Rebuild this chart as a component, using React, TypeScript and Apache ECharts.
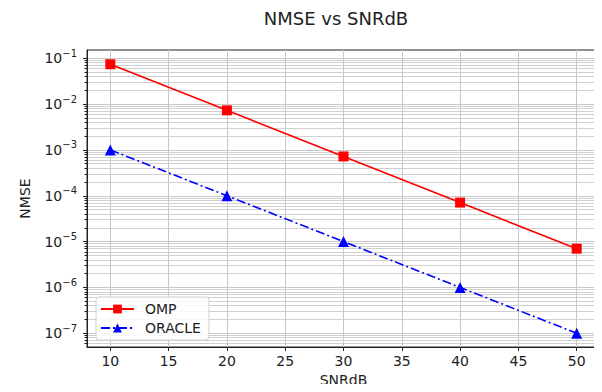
import React, { useEffect, useRef } from "react";
import * as echarts from "echarts";

const snrDb = [10, 20, 30, 40, 50];
const ompNmse = [0.074, 0.0073, 0.00072, 0.000071, 0.000007];
const oracleNmse = [0.001, 0.0001, 0.00001, 0.000001, 0.0000001];
const xTicks = [10, 15, 20, 25, 30, 35, 40, 45, 50];
const yMajorExp = [-7, -6, -5, -4, -3, -2, -1];
const yMinorMult = [2, 3, 4, 5, 6, 7, 8, 9];

const TXT = "#222";
const FONT = "DejaVu Sans";

export default function App() {
  const ref = useRef<HTMLDivElement>(null);
  useEffect(() => {
    if (!ref.current) return;
    const chart = echarts.init(ref.current, null, { renderer: "svg" });
    const yMin = -7.3;
    const yMax = -0.82;
    const minorVals: number[] = [];
    for (let e = -8; e <= 0; e++) {
      for (const m of yMinorMult) {
        const v = e + Math.log10(m);
        if (v > yMin && v < yMax) minorVals.push(v);
      }
    }
    const toLog = (arr: number[]) => arr.map((v, i) => [snrDb[i], Math.log10(v)]);
    chart.setOption({
      animation: false,
      backgroundColor: "#fff",
      textStyle: { fontFamily: FONT },
      title: {
        text: "NMSE vs SNRdB",
        left: 336,
        textAlign: "center",
        top: 9,
        padding: 0,
        textStyle: { fontFamily: FONT, fontSize: 18, fontWeight: "normal", color: TXT },
      },
      grid: {
        left: 87,
        right: 2,
        top: 50,
        bottom: 45,
        show: true,
        borderColor: "#222",
        borderWidth: 1,
        containLabel: false,
      },
      legend: {
        orient: "vertical",
        left: 96,
        top: 297,
        padding: [5, 8, 5, 4],
        backgroundColor: "rgba(255,255,255,0.85)",
        borderColor: "#d0d0d0",
        borderWidth: 1,
        borderRadius: 3,
        itemWidth: 33,
        itemHeight: 11,
        itemGap: 5,
        textStyle: { fontFamily: FONT, fontSize: 14, color: TXT, padding: [0, 0, 0, 6] },
        data: ["OMP", "ORACLE"],
      },
      xAxis: {
        type: "value",
        min: 8,
        max: 52,
        name: "SNRdB",
        nameLocation: "middle",
        nameGap: 26,
        nameMoveOverlap: false,
        nameTextStyle: { fontFamily: FONT, fontSize: 14, color: TXT, verticalAlign: "top" },
        axisLine: { show: true, lineStyle: { color: "#222", width: 1 } },
        axisTick: { show: true, length: 4, customValues: xTicks, lineStyle: { color: "#222" } },
        axisLabel: {
          customValues: xTicks,
          margin: 7,
          fontFamily: FONT,
          fontSize: 14,
          color: TXT,
        },
        splitLine: { show: true, lineStyle: { color: "#c8c8c8", width: 1 } },
      },
      yAxis: [
        {
          type: "value",
          min: yMin,
          max: yMax,
          name: "NMSE",
          nameLocation: "middle",
          nameRotate: 90,
          nameGap: 55,
          nameMoveOverlap: false,
          nameTextStyle: { fontFamily: FONT, fontSize: 14, color: TXT },
          axisLine: { show: true, lineStyle: { color: "#222", width: 1 } },
          axisTick: { show: true, length: 4, customValues: yMajorExp, lineStyle: { color: "#222" } },
          axisLabel: {
            customValues: yMajorExp,
            margin: 10,
            formatter: (v: number) => {
              const n = Math.round(v);
              return `{b|10}{s|${n < 0 ? "\u2212" : ""}${Math.abs(n)}}`;
            },
            rich: {
              b: { fontFamily: FONT, fontSize: 14, color: TXT },
              s: { fontFamily: FONT, fontSize: 10, color: TXT, padding: [0, 0, 10, 0] },
            },
          },
          splitLine: { show: true, lineStyle: { color: "#c8c8c8", width: 1 } },
        },
        {
          type: "value",
          min: yMin,
          max: yMax,
          position: "left",
          axisLine: { show: false },
          axisTick: { show: true, length: 2.5, customValues: minorVals, lineStyle: { color: "#222" } },
          axisLabel: { show: false },
          splitLine: { show: true, lineStyle: { color: "#d0d0d0", width: 1 } },
        },
      ],
      series: [
        {
          name: "OMP",
          type: "line",
          data: toLog(ompNmse),
          symbol: "rect",
          symbolSize: 10,
          color: "#ff0000",
          itemStyle: { color: "#ff0000" },
          lineStyle: { color: "#ff0000", width: 1.6 },
          z: 5,
        },
        {
          name: "ORACLE",
          type: "line",
          data: toLog(oracleNmse),
          symbol: "triangle",
          symbolSize: 11,
          color: "#0000ff",
          itemStyle: { color: "#0000ff" },
          lineStyle: { color: "#0000ff", width: 1.6, type: [9, 3, 2, 3] },
          z: 5,
        },
      ],
    });
    return () => chart.dispose();
  }, []);
  return <div ref={ref} style={{ width: 602, height: 392, margin: -8 }} />;
}
